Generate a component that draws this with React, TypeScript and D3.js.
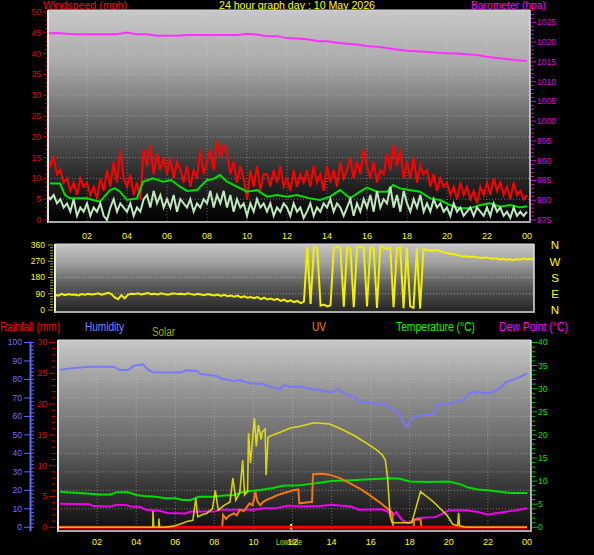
import React from 'react';
import * as d3 from 'd3';

// ---------- DATA ----------
const hourLabels = ['02', '04', '06', '08', '10', '12', '14', '16', '18', '20', '22', '00'];
const hourTicks = [2, 4, 6, 8, 10, 12, 14, 16, 18, 20, 22, 24];
const windTicks = [0, 5, 10, 15, 20, 25, 30, 35, 40, 45, 50];
const baroTicks = [975, 980, 985, 990, 995, 1000, 1005, 1010, 1015, 1020, 1025];
const dirTicks = [0, 90, 180, 270, 360];
const dirLetters = ['N', 'E', 'S', 'W', 'N'];
const humTicks = [0, 10, 20, 30, 40, 50, 60, 70, 80, 90, 100];
const rainTicks = [0, 5, 10, 15, 20, 25, 30];
const tempTicks = [0, 5, 10, 15, 20, 25, 30, 35, 40];

// wind gust (mph), every 10 minutes
const gust = [
  16, 13, 15, 11, 12, 9,
  10, 7, 9, 6, 10, 8,
  9, 6, 8, 5, 10, 7,
  12, 8, 14, 9, 17, 10,
  8, 11, 6, 9, 5, 17,
  13, 18, 11, 16, 12, 15,
  11, 15, 10, 14, 12, 9,
  13, 8, 12, 10, 17, 11,
  14, 17, 12, 19, 15, 18,
  16, 11, 14, 9, 13, 10,
  5, 12, 8, 13, 7, 11,
  11, 8, 12, 9, 13, 8,
  10, 7, 12, 8, 11, 9,
  12, 8, 13, 9, 11, 7,
  13, 9, 12, 8, 14, 10,
  12, 15, 10, 14, 11, 17,
  13, 10, 14, 9, 12, 11,
  16, 12, 18, 13, 17, 10,
  14, 10, 15, 9, 13, 11,
  12, 8, 11, 7, 10, 8,
  9, 6, 8, 5, 9, 6,
  8, 5, 7, 4, 8, 6,
  9, 6, 10, 7, 9, 6,
  8, 5, 9, 6, 7, 5,
  6,
];

// wind average (mph), every 10 minutes
const windAvg = [
  6, 5, 6, 4, 5, 3,
  4, 2, 5, 1, 3, 2,
  4, 1, 3, 2, 4, 1,
  0, 3, 5, 2, 4, 3,
  2, 4, 1, 3, 2, 5,
  6, 3, 7, 4, 6, 3,
  5, 3, 6, 2, 5, 4,
  3, 5, 2, 4, 3, 5,
  4, 7, 3, 6, 4, 7,
  3, 6, 2, 5, 3, 4,
  1, 4, 2, 5, 3, 4,
  2, 4, 1, 3, 2, 4,
  3, 1, 4, 2, 3, 0.5,
  2, 4, 1, 3, 2, 4,
  3, 5, 2, 4, 3, 1,
  3, 5, 1, 4, 2, 5,
  3, 6, 2, 7, 3, 5,
  4, 8, 3, 6, 2, 7,
  4, 2, 5, 3, 6, 2,
  4, 2, 5, 3, 4, 2,
  3, 1, 4, 2, 3, 1,
  2, 3, 1, 3, 2, 1,
  3, 1, 4, 2, 3, 1,
  2, 0.5, 3, 1, 2, 1,
  2,
];

// smoothed wind (mph)
const windSmoothHours = [0.15, 0.65, 0.9, 1.15, 2.0, 2.3, 2.65, 3.15, 3.4, 3.65, 4.0, 4.5, 4.8, 5.3, 5.8, 6.2, 6.65, 7.0, 7.5, 8.0, 8.3, 8.65, 9.0, 9.5, 10.0, 10.5, 11.0, 11.5, 12.0, 12.5, 13.15, 13.65, 14.15, 14.65, 15.15, 15.65, 16.0, 16.5, 17.0, 17.3, 17.65, 18.15, 18.65, 19.15, 19.65, 20.15, 20.65, 21.15, 21.65, 22.15, 22.65, 23.15, 23.65, 24.0];
const windSmooth = [8.8, 8.8, 6.0, 5.2, 5.2, 4.8, 4.4, 7.2, 7.6, 6.8, 4.8, 5.2, 9.2, 10.0, 9.2, 9.6, 8.0, 7.0, 7.2, 9.6, 9.8, 10.8, 9.2, 8.0, 6.8, 7.2, 5.6, 6.0, 5.6, 6.0, 5.2, 4.8, 5.6, 7.2, 5.2, 6.8, 7.8, 6.8, 6.8, 8.4, 7.6, 7.2, 6.8, 5.2, 4.8, 3.6, 2.8, 2.8, 3.6, 4.0, 3.2, 3.6, 3.0, 3.3];

// barometer (hPa), every 30 minutes
const baro = [1022.2, 1022.3, 1022.1, 1022.0, 1022.0, 1022.0, 1022.0, 1022.0, 1022.4, 1022.0, 1022.0, 1021.6, 1021.6, 1021.6, 1021.8, 1021.8, 1021.8, 1021.8, 1021.8, 1021.8, 1022.1, 1021.9, 1021.5, 1021.5, 1021.0, 1020.9, 1020.7, 1020.3, 1020.2, 1019.8, 1019.6, 1019.4, 1019.0, 1018.8, 1018.5, 1018.1, 1017.8, 1017.7, 1017.5, 1017.3, 1017.2, 1017.1, 1016.9, 1016.7, 1016.3, 1016.0, 1015.7, 1015.4, 1015.2];

// wind direction (degrees), every 10 minutes
const windDir = [
  85, 80, 90, 82, 88, 84,
  86, 80, 88, 84, 90, 86,
  88, 92, 85, 90, 95, 88,
  70, 60, 82, 65, 85, 90,
  88, 92, 86, 90, 94, 88,
  90, 86, 92, 88, 84, 90,
  92, 88, 90, 86, 92, 88,
  84, 90, 86, 82, 88, 84,
  80, 86, 78, 84, 76, 80,
  74, 80, 70, 76, 68, 72,
  66, 72, 60, 68, 58, 64,
  56, 62, 50, 58, 46, 54,
  44, 50, 38, 46, 348, 34,
  350, 345, 24, 30, 20, 26,
  345, 350, 342, 18, 348, 340,
  15, 346, 352, 344, 20, 348,
  342, 12, 350, 345, 340, 346,
  15, 343, 348, 10, 345, 20,
  12, 340, 8, 338, 332, 330,
  328, 334, 326, 320, 316, 312,
  310, 306, 300, 296, 298, 294,
  296, 292, 290, 288, 292, 286,
  284, 286, 280, 284, 278, 282,
  276, 282, 278, 286, 280, 284,
  282,
];

// humidity (%)
const humHours = [0.1, 0.61, 1.64, 2.83, 3.17, 3.6, 3.86, 4.34, 4.63, 4.88, 6.25, 6.59, 7.1, 7.27, 8.13, 8.3, 8.98, 9.32, 9.83, 10.51, 10.86, 11.37, 11.54, 11.88, 12.39, 12.9, 13.4, 13.93, 14.35, 14.61, 15.29, 15.46, 15.8, 16.32, 16.66, 17.0, 17.34, 17.51, 17.68, 17.85, 18.02, 18.19, 18.7, 19.22, 19.39, 19.73, 20.24, 20.75, 21.1, 21.6, 22.1, 22.6, 22.97, 23.49, 24.0];
const humidity = [85.1, 86, 86.9, 86.9, 85.1, 85.1, 87.3, 88.2, 85.1, 83.9, 83.7, 85, 84.6, 83, 81.9, 80.6, 79.2, 79.7, 77.9, 77.5, 76.1, 74.7, 77, 76.1, 76.1, 74.8, 74.3, 73.0, 74.8, 72.5, 69.8, 67.6, 68, 66.5, 67.1, 64.4, 62.2, 60.8, 56.3, 54.4, 57.5, 59.8, 60.8, 60.8, 66.2, 66.5, 67.6, 68.9, 73, 73, 72.5, 75.2, 78.8, 80.6, 83.3];

// temperature (°C)
const tempHours = [0.1, 1.8, 2.2, 2.7, 3.0, 3.6, 4.0, 4.4, 5.0, 5.5, 6.0, 6.4, 6.8, 7.2, 7.9, 8.5, 9.0, 9.5, 10.0, 10.5, 11.0, 11.5, 12.4, 12.9, 13.5, 14.0, 15.0, 16.0, 17.0, 17.5, 18.0, 19.0, 20.0, 20.6, 21.0, 21.5, 22.0, 22.8, 23.2, 24.0];
const temperature = [7.7, 7.2, 7.1, 7.1, 7.6, 7.6, 7.0, 6.8, 6.6, 6.3, 6.3, 5.9, 5.9, 6.6, 6.6, 6.9, 7.0, 7.7, 7.9, 8.2, 8.5, 9.0, 9.1, 9.4, 9.7, 10.0, 10.2, 10.4, 10.6, 10.5, 9.9, 9.8, 9.9, 9.3, 8.6, 8.2, 8.0, 7.6, 7.4, 7.4];

// dew point (°C)
const dewHours = [0.1, 1.6, 1.8, 2.7, 3.0, 3.5, 3.7, 4.2, 4.5, 5.2, 5.6, 6.5, 6.8, 8.0, 8.3, 10.0, 10.5, 11.2, 11.8, 12.4, 13.4, 14.0, 14.4, 15.0, 15.4, 16.6, 16.9, 17.1, 17.3, 17.6, 17.9, 18.1, 18.4, 19.3, 19.6, 20.0, 20.9, 21.5, 22.0, 22.3, 23.0, 24.0];
const dewPoint = [5.1, 5.0, 4.6, 4.5, 4.9, 4.8, 4.5, 4.4, 3.8, 3.6, 3.1, 3.0, 3.4, 3.4, 3.8, 3.8, 4.1, 4.2, 4.7, 4.5, 4.6, 4.9, 4.7, 4.5, 3.8, 3.9, 3.3, 2.4, 3.3, 1.6, 0.9, 1.3, 2.0, 2.2, 2.8, 3.7, 3.7, 3.3, 2.7, 3.0, 3.4, 4.1];

// solar radiation (W/m²)
const solarHours = [0, 4.85, 4.86, 4.9, 5.15, 5.16, 5.2, 5.5, 5.9, 6.3, 6.6, 6.9, 7.05, 7.15, 7.4, 7.6, 7.9, 8.05, 8.2, 8.5, 8.8, 8.95, 9.1, 9.3, 9.45, 9.55, 9.7, 9.75, 9.85, 10.05, 10.15, 10.25, 10.4, 10.45, 10.6, 10.65, 10.75, 11.0, 11.4, 11.9, 12.4, 13.1, 13.9, 14.6, 15.2, 15.8, 16.3, 16.6, 16.75, 16.86, 17.0, 17.1, 18.1, 18.55, 19.2, 19.9, 20.2, 20.45, 20.5, 20.55, 20.9, 24];
const solar = [0, 0, 140, 0, 0, 75, 0, 0, 10, 30, 50, 60, 250, 90, 110, 120, 160, 320, 150, 190, 220, 425, 235, 300, 580, 280, 310, 815, 555, 945, 700, 885, 760, 825, 850, 450, 780, 800, 825, 860, 875, 905, 895, 842, 790, 727, 670, 626, 583, 438, 92, 40, 40, 308, 222, 106, 26, 15, 125, 10, 0, 0];

// UV index
const uvHours = [8.4, 8.45, 8.6, 8.75, 9.0, 9.15, 9.3, 9.5, 9.65, 9.8, 9.95, 10.05, 10.1, 10.2, 10.35, 10.5, 10.7, 11.0, 11.2, 11.4, 11.7, 12.05, 12.3, 12.35, 12.9, 13.0, 13.05, 13.5, 13.9, 14.45, 14.95, 15.4, 15.8, 16.5, 17.0, 17.1, 17.15, 18.2, 18.22, 18.55, 18.6];
const uv = [0, 2.7, 1.8, 2.5, 3.0, 2.6, 3.8, 3.5, 4.3, 5.2, 4.8, 6.5, 7.7, 5.6, 4.8, 5.5, 6.0, 6.5, 6.9, 7.2, 7.6, 8.0, 8.2, 5.2, 5.5, 5.5, 11.5, 11.6, 11.4, 10.6, 9.5, 8.5, 7.4, 5.3, 3.5, 3.2, 0, 0, 1.7, 1.7, 0];

// rainfall (mm), every 2 hours
const rainHours = [0, 2, 4, 6, 8, 10, 12, 14, 16, 18, 20, 22, 24];
const rainfall = [0, 0, 0, 0, 0, 0, 0, 0, 0, 0, 0, 0, 0];

const markerHours = [11.93];

// ---------- COMPONENT ----------
const FONT = '"Liberation Sans", Arial, sans-serif';

function path(xs: number[], ys: number[], xs2: (v: number) => number, ys2: (v: number) => number) {
  return d3.line<number>().x((_, i) => xs2(xs[i])).y((d) => ys2(d))(ys) || '';
}

export default function App() {
  const tenMin = d3.range(145).map((i) => i / 6);
  const halfHour = d3.range(49).map((i) => i / 2);

  // top panel
  const P1 = { x: 48, y: 10, w: 482, h: 213 };
  const xTop = d3.scaleLinear().domain([0, 24]).range([47, 527]);
  const yWind = d3.scaleLinear().domain([0, 50]).range([220, 12]);
  const yBaro = d3.scaleLinear().domain([975, 1025]).range([220, 22.3]);

  // direction panel
  const P2 = { x: 55, y: 244, w: 479, h: 69 };
  const xDir = d3.scaleLinear().domain([0, 24]).range([55, 533]);
  const yDir = d3.scaleLinear().domain([0, 360]).range([310, 245]);

  // bottom panel
  const P3 = { x: 58, y: 340, w: 473, h: 192 };
  const xBot = d3.scaleLinear().domain([0, 24]).range([58, 527]);
  const yRain = d3.scaleLinear().domain([0, 30]).range([527.3, 342.5]);
  const yHum = d3.scaleLinear().domain([0, 100]).range([527.3, 342.5]);
  const yTemp = d3.scaleLinear().domain([0, 40]).range([527.3, 342.5]);
  const ySolar = d3.scaleLinear().domain([0, 1600]).range([527.3, 342.5]);

  const grid = { stroke: '#d0d0d0', strokeOpacity: 0.45, strokeDasharray: '1 2', strokeWidth: 1 };

  const frame = (P: { x: number; y: number; w: number; h: number }) => (
    <g>
      <line x1={P.x} x2={P.x + P.w} y1={P.y} y2={P.y} stroke="#d8d8d8" strokeWidth={1} />
      <line x1={P.x} x2={P.x} y1={P.y} y2={P.y + P.h} stroke="#e8e8e8" strokeWidth={2} />
      <line x1={P.x + P.w} x2={P.x + P.w} y1={P.y} y2={P.y + P.h} stroke="#e0e0e0" strokeWidth={1.5} />
      <line x1={P.x} x2={P.x + P.w} y1={P.y + P.h - 1} y2={P.y + P.h - 1} stroke="#a8a8a8" strokeWidth={2} />
    </g>
  );

  const windMinor = d3.range(0, 51);
  const baroMinor = d3.range(975, 1028);
  const dirMinor = d3.range(0, 361, 15);
  const humMinor = d3.range(0, 101, 2);
  const rainMinor = d3.range(0, 31, 1);
  const tempMinor = d3.range(0, 41, 1);

  return (
    <div style={{ position: 'fixed', left: 0, top: 0, width: 594, height: 555, background: '#000' }}>
      <svg width={594} height={555} style={{ display: 'block', fontFamily: FONT }}>
        <defs>
          <linearGradient id="g1" x1="0" x2="0" y1="0" y2="1">
            <stop offset="0" stopColor="#c8c8c8" />
            <stop offset="0.25" stopColor="#aaaaaa" />
            <stop offset="0.5" stopColor="#6c6c6c" />
            <stop offset="0.75" stopColor="#303030" />
            <stop offset="0.95" stopColor="#080808" />
            <stop offset="1" stopColor="#000" />
          </linearGradient>
          <linearGradient id="g2" x1="0" x2="0" y1="0" y2="1">
            <stop offset="0" stopColor="#c8c8c8" />
            <stop offset="0.3" stopColor="#9a9a9a" />
            <stop offset="0.6" stopColor="#5a5a5a" />
            <stop offset="1" stopColor="#222" />
          </linearGradient>
          <linearGradient id="g3" x1="0" x2="0" y1="0" y2="1">
            <stop offset="0" stopColor="#c8c8c8" />
            <stop offset="0.3" stopColor="#8e8e8e" />
            <stop offset="0.55" stopColor="#666" />
            <stop offset="0.75" stopColor="#3a3a3a" />
            <stop offset="1" stopColor="#0c0c0c" />
          </linearGradient>
          <clipPath id="c1"><rect x={P1.x} y={P1.y} width={P1.w} height={P1.h} /></clipPath>
          <clipPath id="c2"><rect x={P2.x} y={P2.y} width={P2.w} height={P2.h} /></clipPath>
          <clipPath id="c3"><rect x={P3.x} y={P3.y} width={P3.w} height={P3.h} /></clipPath>
        </defs>

        {/* ---------- TOP PANEL ---------- */}
        <text x={43} y={9} fill="#ff0000" fontSize={11.5} textLength={84} lengthAdjust="spacingAndGlyphs">Windspeed (mph)</text>
        <text x={219} y={9} fill="#ffff00" fontSize={11.5} textLength={156} lengthAdjust="spacingAndGlyphs">24 hour graph day : 10 May 2026</text>
        <text x={471} y={9} fill="#ff00ff" fontSize={11.5} textLength={75} lengthAdjust="spacingAndGlyphs">Barometer (hpa)</text>

        <rect x={P1.x} y={P1.y} width={P1.w} height={P1.h} fill="url(#g1)" />
        <g>
          {hourTicks.slice(0, 11).map((h) => (
            <line key={h} x1={xTop(h)} x2={xTop(h)} y1={P1.y} y2={P1.y + P1.h} {...grid} />
          ))}
          {windTicks.slice(1, 10).map((v) => (
            <line key={v} x1={P1.x} x2={P1.x + P1.w} y1={yWind(v)} y2={yWind(v)} {...grid} />
          ))}
        </g>
        <g clipPath="url(#c1)" fill="none">
          <path d={path(tenMin, gust, xTop, yWind)} stroke="#ff0000" strokeWidth={2} />
          <path d={path(windSmoothHours, windSmooth, xTop, yWind)} stroke="#00e000" strokeWidth={2} />
          <path d={path(tenMin, windAvg, xTop, yWind)} stroke="#bfe8bf" strokeWidth={2} />
          <path d={path(halfHour, baro, xTop, yBaro)} stroke="#ff30ff" strokeWidth={2} />
        </g>
        {frame(P1)}
        {/* left axis */}
        {windMinor.map((v) => (
          <line key={v} x1={v % 5 === 0 ? 43 : 45} x2={47} y1={yWind(v)} y2={yWind(v)} stroke="#d00000" strokeWidth={1} />
        ))}
        {windTicks.map((v) => (
          <text key={v} x={41} y={yWind(v)} dy="0.35em" textAnchor="end" fill="#e80000" fontSize={8.5}>{v}</text>
        ))}
        {/* right axis */}
        {baroMinor.map((v) => (
          <line key={v} x1={531} x2={v % 5 === 0 ? 536 : 534} y1={yBaro(v)} y2={yBaro(v)} stroke="#e000e0" strokeWidth={1} />
        ))}
        {baroTicks.map((v) => (
          <text key={v} x={537} y={yBaro(v)} dy="0.35em" fill="#e000e0" fontSize={8.5}>{v}</text>
        ))}
        {hourTicks.map((h, i) => (
          <text key={h} x={xTop(h)} y={238.5} textAnchor="middle" fill="#ffff00" fontSize={9}>{hourLabels[i]}</text>
        ))}

        {/* ---------- DIRECTION PANEL ---------- */}
        <rect x={P2.x} y={P2.y} width={P2.w} height={P2.h} fill="url(#g2)" />
        {dirTicks.slice(1, 4).map((v) => (
          <line key={v} x1={P2.x} x2={P2.x + P2.w} y1={yDir(v)} y2={yDir(v)} {...grid} strokeOpacity={0.6} />
        ))}
        <g clipPath="url(#c2)" fill="none">
          <path d={path(tenMin, windDir, xDir, yDir)} stroke="#f0f000" strokeWidth={2} />
        </g>
        {frame(P2)}
        {dirMinor.map((v) => (
          <line key={v} x1={v % 90 === 0 ? 48 : 50} x2={53} y1={yDir(v)} y2={yDir(v)} stroke="#a8a800" strokeWidth={1} />
        ))}
        {dirTicks.map((v) => (
          <text key={v} x={45} y={yDir(v)} dy="0.35em" textAnchor="end" fill="#ffff00" fontSize={8.5}>{v}</text>
        ))}
        {dirTicks.map((v, i) => (
          <text key={v} x={555} y={yDir(v)} dy="0.38em" textAnchor="middle" fill="#ffff00" fontSize={11.5}>{dirLetters[i]}</text>
        ))}

        {/* ---------- BOTTOM PANEL ---------- */}
        <text x={0} y={331} fill="#ff0000" fontSize={12} textLength={60} lengthAdjust="spacingAndGlyphs">Rainfall (mm)</text>
        <text x={85} y={331} fill="#8080ff" fontSize={12} textLength={39} lengthAdjust="spacingAndGlyphs">Humidity</text>
        <text x={152} y={335.5} fill="#a8a800" fontSize={12} textLength={23} lengthAdjust="spacingAndGlyphs">Solar</text>
        <text x={312} y={331} fill="#ff8000" fontSize={12} textLength={14} lengthAdjust="spacingAndGlyphs">UV</text>
        <text x={396} y={331} fill="#00ff00" fontSize={12} textLength={79} lengthAdjust="spacingAndGlyphs">Temperature (°C)</text>
        <text x={499} y={331} fill="#ff00ff" fontSize={12} textLength={69} lengthAdjust="spacingAndGlyphs">Dew Point (°C)</text>

        <rect x={P3.x} y={P3.y} width={P3.w} height={P3.h} fill="url(#g3)" />
        <g>
          {hourTicks.slice(0, 11).map((h) => (
            <line key={h} x1={xBot(h)} x2={xBot(h)} y1={P3.y} y2={P3.y + P3.h} {...grid} />
          ))}
          {humTicks.slice(1, 10).map((v) => (
            <line key={v} x1={P3.x} x2={P3.x + P3.w} y1={yHum(v)} y2={yHum(v)} {...grid} />
          ))}
        </g>
        <g clipPath="url(#c3)" fill="none">
          <path d={path(humHours, humidity, xBot, yHum)} stroke="#7878f8" strokeWidth={2} />
          <path d={path(tempHours, temperature, xBot, yTemp)} stroke="#00dd00" strokeWidth={2} />
          <path d={path(dewHours, dewPoint, xBot, yTemp)} stroke="#f000f0" strokeWidth={2} />
          <path d={path(uvHours, uv, xBot, yTemp)} stroke="#f07810" strokeWidth={2} />
          <path d={path(rainHours, rainfall, xBot, yRain)} stroke="#ff0000" strokeWidth={3} />
          <path d={path(solarHours, solar, xBot, ySolar)} stroke="#f8f000" strokeOpacity={0.82} strokeWidth={1.6} />
          {markerHours.map((h) => (
            <line key={h} x1={xBot(h)} x2={xBot(h)} y1={524} y2={532} stroke="#ffff00" strokeWidth={2} strokeDasharray="2 1.5" />
          ))}
        </g>
        {frame(P3)}
        {/* humidity axis */}
        <line x1={30.5} x2={30.5} y1={yHum(100) - 1} y2={yHum(0) + 4} stroke="#6464ff" strokeWidth={2} />
        {humMinor.map((v) => (
          <line key={v} x1={v % 10 === 0 ? 24 : 30} x2={34} y1={yHum(v)} y2={yHum(v)} stroke="#6464ff" strokeWidth={1} />
        ))}
        {humTicks.map((v) => (
          <text key={v} x={22} y={yHum(v)} dy="0.35em" textAnchor="end" fill="#7070ff" fontSize={8.5}>{v}</text>
        ))}
        {/* rain axis */}
        {rainMinor.map((v) => (
          <line key={v} x1={v % 5 === 0 ? 49 : 52} x2={55} y1={yRain(v)} y2={yRain(v)} stroke="#d00000" strokeWidth={1} />
        ))}
        {rainTicks.map((v) => (
          <text key={v} x={47} y={yRain(v)} dy="0.35em" textAnchor="end" fill="#e80000" fontSize={8.5}>{v}</text>
        ))}
        {/* temperature axis */}
        {tempMinor.map((v) => (
          <line key={v} x1={532} x2={v % 5 === 0 ? 537 : 535} y1={yTemp(v)} y2={yTemp(v)} stroke="#00c000" strokeWidth={1} />
        ))}
        {tempTicks.map((v) => (
          <text key={v} x={538} y={yTemp(v)} dy="0.35em" fill="#00e000" fontSize={8.5}>{v}</text>
        ))}
        <text x={276} y={545} fill="#b0e020" fontSize={9} textLength={26} lengthAdjust="spacingAndGlyphs">LowHide</text>
        {hourTicks.map((h, i) => (
          <text key={h} x={xBot(h)} y={545} textAnchor="middle" fill="#ffff00" fontSize={9}>{hourLabels[i]}</text>
        ))}
      </svg>
    </div>
  );
}
